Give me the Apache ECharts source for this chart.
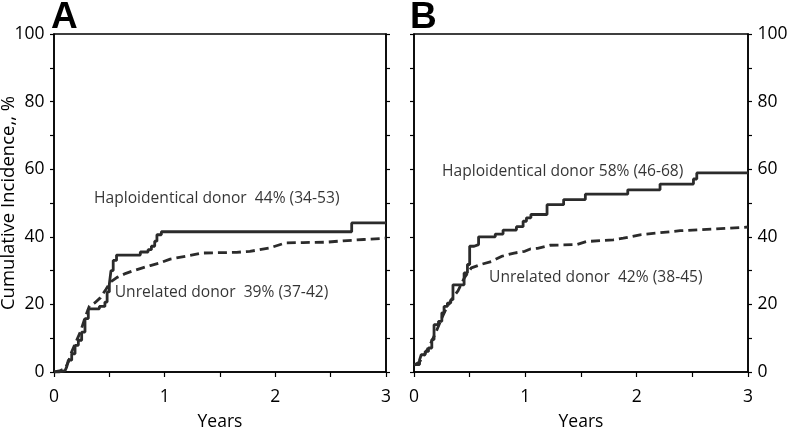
<!DOCTYPE html>
<html>
<head>
<meta charset="utf-8">
<script src="https://cdn.jsdelivr.net/npm/echarts@6/dist/echarts.min.js"></script>
<style>html,body{margin:0;padding:0;background:#fff}#c{width:791px;height:427px}</style>
</head>
<body>
<div id="c"></div>
<script>
// Panel A — haploidentical donor (solid, step)
const aHaploT = [0, 0.05, 0.10, 0.115, 0.13, 0.16, 0.19, 0.22, 0.25, 0.28, 0.31, 0.41, 0.46, 0.48, 0.50, 0.515, 0.535, 0.565, 0.78, 0.85, 0.88, 0.91, 0.93, 0.97, 2.69, 3.0];
const aHaploV = [0, 0.4, 0.7, 1.5, 3.5, 5.4, 7.9, 9.4, 11.8, 15.8, 18.7, 19.4, 20.7, 23.7, 26, 30, 33, 34.6, 35.5, 36.2, 37.2, 38.7, 40.6, 41.5, 44.1, 44.1];
// Panel A — unrelated donor (dashed)
const aUnrelT = [0, 0.05, 0.10, 0.13, 0.16, 0.20, 0.24, 0.28, 0.32, 0.37, 0.42, 0.47, 0.51, 0.57, 0.65, 0.72, 0.80, 0.87, 0.95, 1.05, 1.20, 1.34, 1.65, 1.77, 1.95, 2.09, 2.25, 2.46, 2.61, 2.80, 3.0];
const aUnrelV = [0, 0.3, 1, 3, 6, 9, 12, 16, 19.5, 20.5, 22, 24.5, 26.6, 28, 29.2, 30, 30.8, 31.5, 32.2, 33.4, 34.3, 35.2, 35.4, 35.7, 36.7, 38.2, 38.3, 38.4, 38.8, 39.2, 39.6];
// Panel B — haploidentical donor (solid, step)
const bHaploT = [0, 0.05, 0.065, 0.10, 0.13, 0.16, 0.18, 0.22, 0.25, 0.27, 0.30, 0.33, 0.35, 0.45, 0.48, 0.50, 0.54, 0.58, 0.73, 0.80, 0.92, 0.98, 1.01, 1.05, 1.195, 1.344, 1.539, 1.92, 2.21, 2.51, 2.54, 3.0];
const bHaploV = [2.2, 3.6, 5.1, 6.1, 7.1, 9.6, 14, 15, 17.5, 19.4, 20.4, 21.4, 25.8, 29.3, 31.8, 37.2, 37.7, 40, 40.8, 42, 43, 44.6, 45.6, 46.6, 49.5, 51, 52.6, 53.9, 55.6, 57.1, 58.9, 58.9];
// Panel B — unrelated donor (dashed)
const bUnrelT = [0, 0.05, 0.10, 0.15, 0.20, 0.25, 0.30, 0.35, 0.395, 0.455, 0.515, 0.60, 0.695, 0.785, 0.90, 0.995, 1.045, 1.11, 1.22, 1.46, 1.55, 1.79, 1.88, 2.03, 2.18, 2.39, 2.69, 2.96, 3.0];
const bUnrelV = [2, 3, 5.5, 8.5, 12, 16, 19.5, 22, 24, 28, 30.8, 31.8, 32.7, 34.2, 35.2, 35.7, 36.4, 36.6, 37.5, 37.7, 38.6, 39.1, 39.6, 40.6, 41.1, 41.8, 42.3, 42.8, 42.9];

const xTicks = [0, 1, 2, 3];
const yTicks = [0, 20, 40, 60, 80, 100];
const labelsA = ['Haploidentical donor  44% (34-53)', 'Unrelated donor  39% (37-42)'];
const labelsB = ['Haploidentical donor 58% (46-68)', 'Unrelated donor  42% (38-45)'];
const panelLetters = ['A', 'B'];

const zip = (t, v) => t.map((x, i) => [x, v[i]]);
const FONT = 'Open Sans';
const TEXT = '#000';
const curveColor = '#2b2b2b';

function xAxisDef(gi) {
  return {
    type: 'value', gridIndex: gi, min: 0, max: 3, interval: 0.5,
    name: 'Years', nameLocation: 'middle', nameGap: 41, nameMoveOverlap: false,
    nameTextStyle: { fontFamily: FONT, fontSize: 17.5, color: TEXT },
    axisLine: { show: true, onZero: false, lineStyle: { color: '#000', width: 1.5 } },
    axisTick: { show: true, length: 5, lineStyle: { color: '#000', width: 1.2 } },
    splitLine: { show: false },
    axisLabel: { fontFamily: FONT, fontSize: 17.5, color: TEXT, margin: 16,
      formatter: v => (xTicks.indexOf(v) >= 0 ? String(v) : '') }
  };
}
function yAxisDef(gi, pos, labels, name) {
  return {
    type: 'value', gridIndex: gi, min: 0, max: 100, interval: 10, position: pos,
    name: name || '', nameLocation: 'middle', nameGap: 36, nameMoveOverlap: false,
    nameTextStyle: { fontFamily: FONT, fontSize: 18.5, color: TEXT },
    axisLine: { show: true, onZero: false, lineStyle: { color: '#000', width: 1.5 } },
    axisTick: { show: true, length: 4, lineStyle: { color: '#000', width: 1.2 } },
    splitLine: { show: false },
    axisLabel: { show: labels, fontFamily: FONT, fontSize: 17.5, color: TEXT, margin: 9.5,
      formatter: v => (yTicks.indexOf(v) >= 0 ? String(v) : '') }
  };
}
function curve(xi, yi, data, dashed, step) {
  return {
    type: 'line', xAxisIndex: xi, yAxisIndex: yi, data: data,
    step: step ? 'end' : false, showSymbol: false, symbol: 'none',
    lineStyle: { color: curveColor, width: 2.8, type: dashed ? [9, 5] : 'solid' },
    z: 3
  };
}
function annot(xi, yi, pts) {
  return {
    type: 'scatter', xAxisIndex: xi, yAxisIndex: yi, symbolSize: 0, silent: true,
    data: pts,
    label: { show: true, position: 'right', distance: 0,
      fontFamily: FONT, fontSize: 15.6, color: TEXT,
      formatter: p => p.name }
  };
}

const gridBase = { top: 34, bottom: 55, show: true, borderColor: '#000', borderWidth: 1.5,
  containLabel: false, outerBoundsMode: 'none' };

const option = {
  animation: false,
  backgroundColor: '#fff',
  title: [
    { text: panelLetters[0], left: 46, top: -6, textStyle: { fontFamily: 'Liberation Sans', fontWeight: 'bold', fontSize: 37, color: '#000' } },
    { text: panelLetters[1], left: 405, top: -6, textStyle: { fontFamily: 'Liberation Sans', fontWeight: 'bold', fontSize: 37, color: '#000' } }
  ],
  grid: [
    Object.assign({ left: 54, right: 405 }, gridBase),
    Object.assign({ left: 414, right: 43 }, gridBase)
  ],
  xAxis: [xAxisDef(0), xAxisDef(1)],
  yAxis: [
    yAxisDef(0, 'left', true, 'Cumulative Incidence,, %'),
    yAxisDef(0, 'right', false),
    yAxisDef(1, 'left', false),
    yAxisDef(1, 'right', true)
  ],
  series: [
    curve(0, 0, zip(aUnrelT, aUnrelV), true, false),
    curve(0, 0, zip(aHaploT, aHaploV), false, true),
    curve(1, 3, zip(bUnrelT, bUnrelV), true, false),
    curve(1, 3, zip(bHaploT, bHaploV), false, true),
    annot(0, 0, [{ name: labelsA[0], value: [0.362, 51.3] }, { name: labelsA[1], value: [0.549, 23.6] }]),
    annot(1, 3, [{ name: labelsB[0], value: [0.2515, 59.3] }, { name: labelsB[1], value: [0.674, 27.8] }])
  ]
};
const chart = echarts.init(document.getElementById('c'), null, { renderer: 'canvas' });
chart.setOption(option);
</script>
</body>
</html>
